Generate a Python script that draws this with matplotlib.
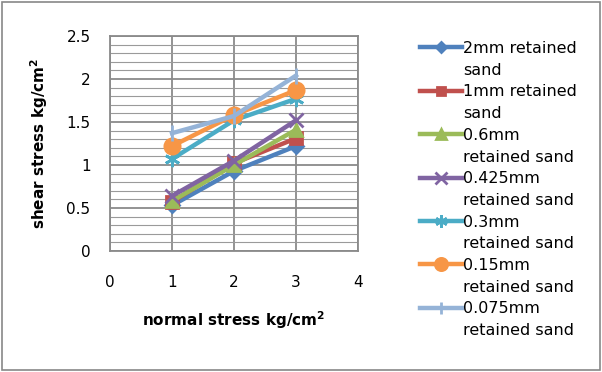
import numpy as np
import matplotlib.pyplot as plt
from matplotlib.lines import Line2D
from matplotlib.patches import Rectangle

plt.rcParams['font.family'] = ['DejaVu Sans']

# data
normal = [1, 2, 3]
s_2mm = [0.53, 0.93, 1.22]
s_1mm = [0.57, 1.02, 1.31]
s_06mm = [0.58, 1.00, 1.41]
s_0425mm = [0.64, 1.05, 1.52]
s_03mm = [1.07, 1.52, 1.77]
s_015mm = [1.22, 1.58, 1.87]
s_0075mm = [1.37, 1.57, 2.04]

series = [
    ("2mm retained", "sand", s_2mm, '#4F81BD', 'D', 7),
    ("1mm retained", "sand", s_1mm, '#C0504D', 's', 8),
    ("0.6mm", "retained sand", s_06mm, '#9BBB59', '^', 9),
    ("0.425mm", "retained sand", s_0425mm, '#8064A2', 'x', 10),
    ("0.3mm", "retained sand", s_03mm, '#4BACC6', (6, 2, 0), 11),
    ("0.15mm", "retained sand", s_015mm, '#F79646', 'o', 11),
    ("0.075mm", "retained sand", s_0075mm, '#95B3D7', '|', 11),
]

fig = plt.figure(figsize=(6.02, 3.72), dpi=100)
fig.patches.append(Rectangle((0.003, 0.005), 0.993, 0.99, transform=fig.transFigure,
                             fill=False, edgecolor='#888888', lw=1.2))
ax = fig.add_axes([110/602, 1-251/372, 248/602, 215/372])

handles, labels = [], []
for l1, l2, ys, c, m, ms in series:
    ln, = ax.plot(normal, ys, color=c, lw=3.2, marker=m, markersize=ms,
                  markeredgewidth=2, markeredgecolor=c, markerfacecolor=c, zorder=3)
    handles += [ln, Line2D([], [], color='none')]
    labels += [l1, l2]

ax.set_xlim(0, 4)
ax.set_ylim(0, 2.5)
ax.set_xticks([0, 1, 2, 3, 4])
ax.set_yticks(np.arange(0, 2.51, 0.5))
ax.set_yticklabels(['0', '0.5', '1', '1.5', '2', '2.5'])
ax.set_yticks(np.arange(0, 2.51, 0.1), minor=True)
ax.grid(True, which='major', color='#8a8a8a', lw=1.3)
ax.grid(True, which='minor', axis='y', color='#9a9a9a', lw=0.8)
ax.set_axisbelow(True)
ax.tick_params(which='both', length=0, labelsize=11)
ax.tick_params(axis='x', pad=17)
ax.tick_params(axis='y', pad=14)
for s in ax.spines.values():
    s.set_color('#8a8a8a')
    s.set_linewidth(1.3)

ax.set_xlabel('normal stress kg/cm$^\\mathbf{2}$', fontsize=11, fontweight='bold', labelpad=14)
ax.set_ylabel('shear stress kg/cm$^\\mathbf{2}$', fontsize=11, fontweight='bold', labelpad=12)

fig.legend(handles, labels, loc='upper left', bbox_to_anchor=(412/602, 1-33/372),
           frameon=False, fontsize=11.5, labelspacing=0.42, handlelength=2.6,
           handletextpad=0.1, borderpad=0, markerscale=0.8)

fig.savefig('out.png', dpi=100)
